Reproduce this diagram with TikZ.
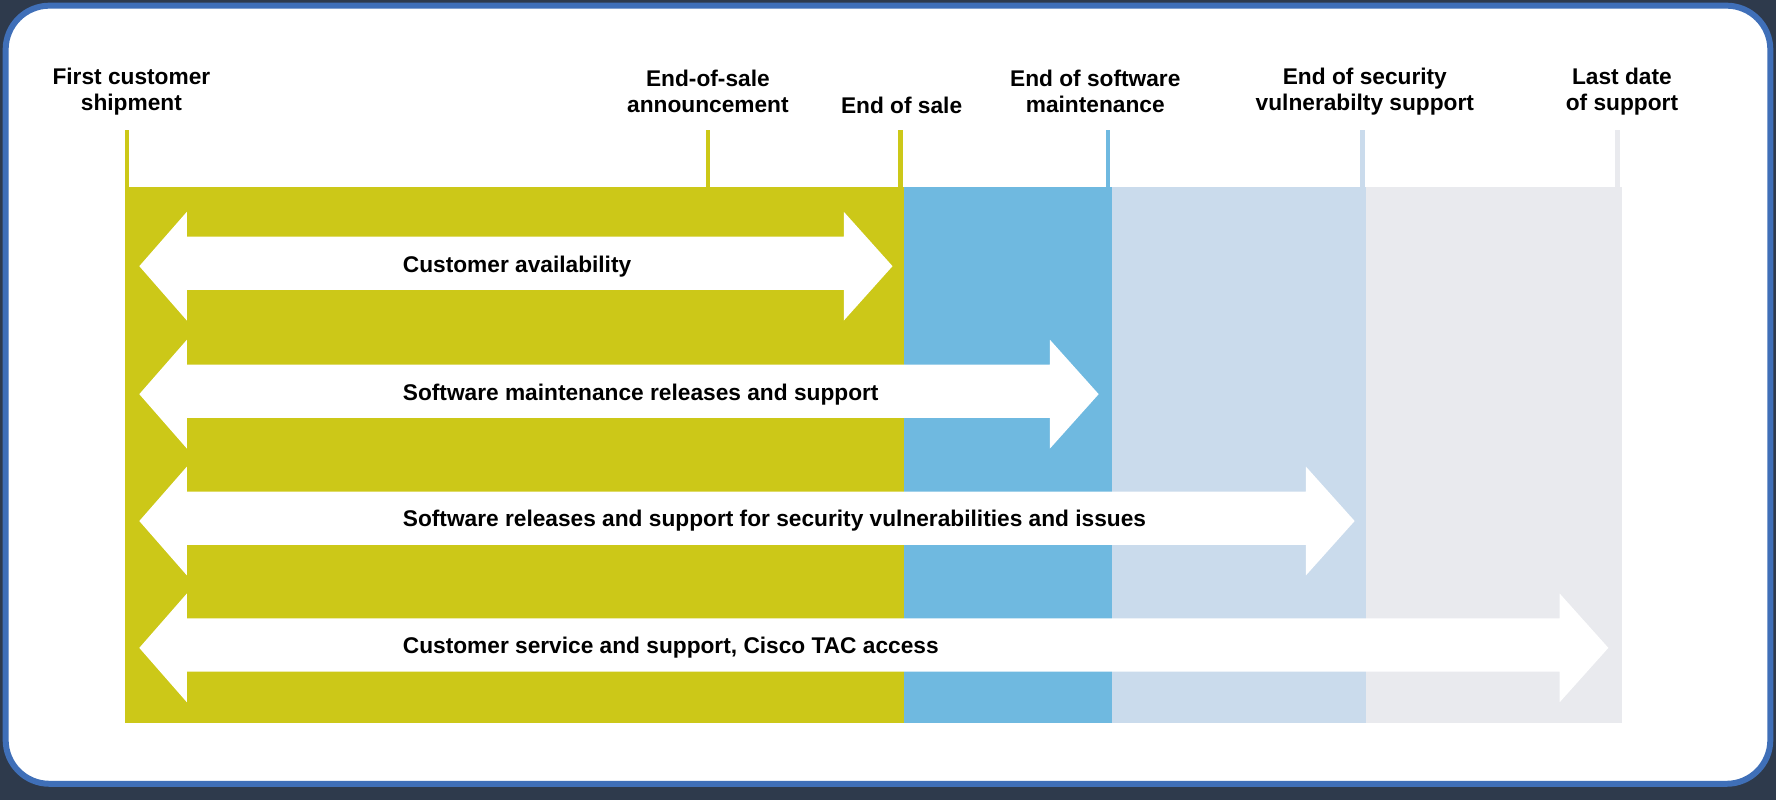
\documentclass[tikz,border=0pt]{standalone}
\usepackage{fontspec}
\setmainfont{Liberation Sans}
\definecolor{bgdark}{HTML}{2E3A4C}
\definecolor{frame}{HTML}{3F6FB8}
\definecolor{olive}{HTML}{CCC818}
\definecolor{sblue}{HTML}{6FB9E0}
\definecolor{lblue}{HTML}{CADBEC}
\definecolor{lgray}{HTML}{E9EAEE}
\begin{document}
\begin{tikzpicture}[x=0.01cm,y=-0.01cm,
  lab/.style={font=\bfseries\fontsize{5.7}{6.5}\selectfont,align=center,text=black,inner sep=0},
  alab/.style={font=\bfseries\fontsize{5.7}{6.5}\selectfont,anchor=west,inner sep=0},
  tick/.style={line width=1.1pt},
  dbl/.style={fill=white,draw=none}]
\useasboundingbox (0,0) rectangle (1568,706);
\fill[bgdark] (0,0) rectangle (1568,706);
\draw[frame,fill=white,line width=1.5pt,rounded corners=11pt] (5,5) rectangle (1563,692);
% bands
\fill[olive] (110,165) rectangle (798,638);
\fill[sblue] (798,165) rectangle (982,638);
\fill[lblue] (982,165) rectangle (1206,638);
\fill[lgray] (1206,165) rectangle (1432,638);
% ticks
\coordinate (t1) at (112,115); \coordinate (t2) at (625,115); \coordinate (t3) at (795,115);
\coordinate (t4) at (978,115); \coordinate (t5) at (1203,115); \coordinate (t6) at (1428,115);
\draw[tick,olive] (t1) -- ++(0,50); \draw[tick,olive] (t2) -- ++(0,50); \draw[tick,olive] (t3) -- ++(0,50);
\draw[tick,sblue] (t4) -- ++(0,50); \draw[tick,lblue] (t5) -- ++(0,50); \draw[tick,lgray] (t6) -- ++(0,50);
% labels top
\node[lab] (l1) at (116,81) {First customer\\shipment};
\node[lab] (l2) at (625,81) {End-of-sale\\announcement};
\node[lab] (l3) at (796,93) {End of sale};
\node[lab] (l4) at (967,81) {End of software\\maintenance};
\node[lab] (l5) at (1205,81) {End of security\\vulnerabilty support};
\node[lab] (l6) at (1432,81) {Last date\\of support};
% arrows
\foreach \y/\tip/\name/\txt in {235/788/a1/Customer availability,
  348/970/a2/Software maintenance releases and support,
  460/1196/a3/Software releases and support for security vulnerabilities and issues,
  572/1420/a4/{Customer service and support, Cisco TAC access}}{
  \fill[dbl] (123,\y) -- (165,\y-48) -- (165,\y-26) -- (\tip-43,\y-26) -- (\tip-43,\y-48)
     -- (\tip,\y) -- (\tip-43,\y+48) -- (\tip-43,\y+21) -- (165,\y+21) -- (165,\y+48) -- cycle;
  \node[alab] (\name) at (355,\y) {\txt};
}
\end{tikzpicture}
\end{document}
